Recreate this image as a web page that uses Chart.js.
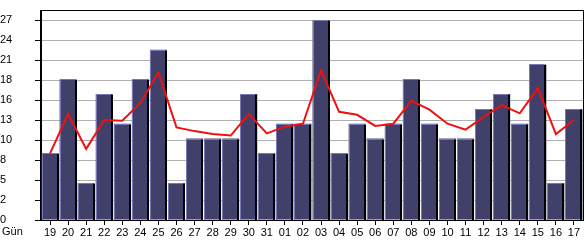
<!DOCTYPE html>
<html>
<head>
<meta charset="utf-8">
<script src="https://cdn.jsdelivr.net/npm/chart.js@4/dist/chart.umd.min.js"></script>
<style>
html, body { margin: 0; padding: 0; background: #fff; }
#wrap { width: 585px; height: 240px; }
</style>
</head>
<body>
<div id="wrap"><canvas id="chart"></canvas></div>
<script>
const days = ["19", "20", "21", "22", "23", "24", "25", "26", "27", "28", "29", "30", "31",
    "01", "02", "03", "04", "05", "06", "07", "08", "09", "10", "11", "12", "13", "14", "15", "16", "17"];
const visits = [9, 19, 5, 17, 13, 19, 23, 5, 11, 11, 11, 17, 9,
    13, 13, 27, 9, 13, 11, 13, 19, 13, 11, 11, 15, 17, 13, 21, 5, 15];
const average = [9.0, 14.3, 9.6, 13.5, 13.4, 15.8, 19.9, 12.5, 12.0, 11.6, 11.4, 14.3, 11.7,
    12.6, 13.0, 20.2, 14.6, 14.2, 12.7, 13.0, 16.1, 14.9, 13.0, 12.2, 13.9, 15.5, 14.4, 17.8, 11.6, 13.5];
const yTicks = [0, 2.7, 5.4, 8.1, 10.8, 13.5, 16.2, 18.9, 21.6, 24.3, 27];
const yMax = 28.35;
const xTitle = "Gün";

const font = {family: "Liberation Sans", size: 11};

// light top/left edge and black right shadow on each bar
const barLook = {
    id: "barLook",
    afterDatasetDraw(chart, args) {
        if (args.index !== 0) return;
        const ctx = chart.ctx;
        ctx.save();
        args.meta.data.forEach(bar => {
            const p = bar.getProps(["x", "y", "width", "base"], true);
            const left = Math.round(p.x - p.width / 2);
            const right = Math.round(p.x + p.width / 2);
            const top = Math.round(p.y);
            const base = Math.round(p.base);
            ctx.fillStyle = "#000";
            ctx.fillRect(right - 2, top + 1, 2, base - top - 1);
            ctx.fillStyle = "#7878b8";
            ctx.fillRect(left, top, right - left - 2, 1);
            ctx.fillRect(left, top, 1, base - top);
        });
        ctx.restore();
    }
};

const frame = {
    id: "frame",
    afterDraw(chart) {
        const ctx = chart.ctx;
        const a = chart.chartArea;
        ctx.save();
        ctx.strokeStyle = "#000";
        ctx.lineWidth = 1;
        ctx.strokeRect(Math.round(a.left) - 0.5, Math.round(a.top) + 0.5,
            Math.round(a.right - a.left) + 1, Math.round(a.bottom - a.top));
        ctx.fillStyle = "#000";
        ctx.font = font.size + "px " + font.family;
        ctx.textBaseline = "middle";
        ctx.fillText(xTitle, 2, 232);
        ctx.restore();
    }
};

new Chart(document.getElementById("chart"), {
    data: {
        labels: days,
        datasets: [
            {
                type: "bar",
                data: visits,
                backgroundColor: "#40406a",
                borderWidth: 0,
                barPercentage: 0.94,
                categoryPercentage: 1,
                order: 1,
            },
            {
                type: "line",
                data: average,
                borderColor: "#f01010",
                borderWidth: 2,
                pointRadius: 0,
                tension: 0,
                order: 0,
            },
        ]
    },
    options: {
        animation: false,
        responsive: true,
        maintainAspectRatio: false,
        layout: {padding: {top: 10, right: 2, left: 0, bottom: 0}},
        plugins: {
            legend: {display: false},
            tooltip: {enabled: false}
        },
        scales: {
            x: {
                offset: true,
                grid: {
                    offset: false,
                    drawOnChartArea: false,
                    tickColor: "#000",
                    tickLength: 5,
                },
                border: {color: "#000"},
                ticks: {color: "#000", font: font, padding: 1, maxRotation: 0, autoSkip: false},
                afterFit(scale) { scale.height = 20; }
            },
            y: {
                min: 0,
                max: yMax,
                afterBuildTicks(scale) {
                    scale.ticks = yTicks.map(v => ({value: v}));
                },
                grid: {
                    color: "#b0b0b0",
                    tickColor: "#000",
                    tickLength: 6,
                },
                border: {color: "#000"},
                ticks: {
                    color: "#000",
                    font: font,
                    crossAlign: "far",
                    callback: v => Math.floor(v + 0.001)
                },
                afterFit(scale) { scale.width = 41; }
            }
        }
    },
    plugins: [barLook, frame]
});
</script>
</body>
</html>
